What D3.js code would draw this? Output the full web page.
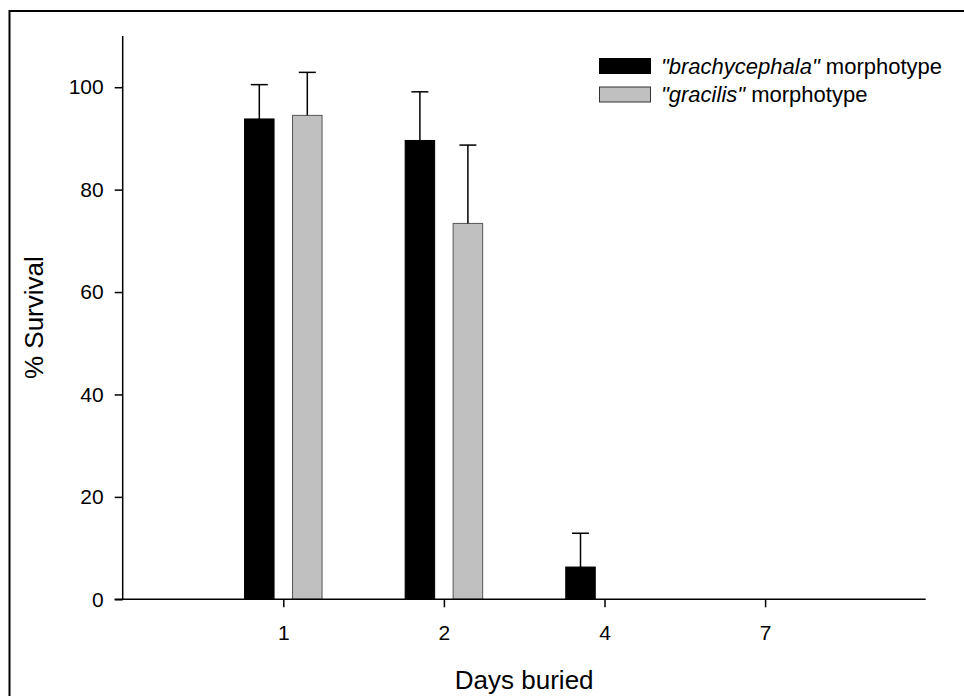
<!DOCTYPE html>
<html>
<head>
<meta charset="utf-8">
<script src="https://cdn.jsdelivr.net/npm/d3@7"></script>
<style>
  html, body { margin: 0; padding: 0; background: #fff; }
  svg { display: block; font-family: "Liberation Sans", Arial, sans-serif; }
</style>
</head>
<body>
<svg id="chart" width="964" height="696"></svg>
<script>
// Days buried (categories) and mean % survival with upper error (SD)
const days = ["1", "2", "4", "7"];
const brachyMean = [93.8, 89.6, 6.3, 0];
const brachyErr  = [6.7, 9.5, 6.6, 0];
const gracilisMean = [94.5, 73.4, 0, 0];
const gracilisErr  = [8.4, 15.3, 0, 0];
const yTicks = [0, 20, 40, 60, 80, 100];
const seriesNames = ["\"brachycephala\"", "\"gracilis\""];
const seriesFill = ["#000000", "#c0c0c0"];
const seriesStroke = ["#000000", "#555555"];

(function () {
  const svg = d3.select("#chart");

  // outer frame (top and left edges)
  svg.append("path")
    .attr("d", "M9.5,696 L9.5,11 L964,11")
    .attr("fill", "none").attr("stroke", "#000").attr("stroke-width", 2);

  const plotLeft = 122.7, plotRight = 925.7, plotTop = 36, plotBottom = 599.3;

  // categories sit at positions 1..4 on a 0..5 axis
  const x = d3.scaleLinear().domain([0, days.length + 1]).range([plotLeft, plotRight]);
  const y = d3.scaleLinear().domain([0, 110]).range([plotBottom, plotTop]);

  const barW = 29.5, offset = 24;

  const series = [
    { mean: brachyMean, err: brachyErr, dx: -offset },
    { mean: gracilisMean, err: gracilisErr, dx: offset }
  ];

  series.forEach((s, si) => {
    const g = svg.append("g");
    days.forEach((d, i) => {
      const v = s.mean[i];
      if (v <= 0) return;
      const cx = x(i + 1) + s.dx;
      g.append("rect")
        .attr("x", cx - barW / 2)
        .attr("y", y(v))
        .attr("width", barW)
        .attr("height", y(0) - y(v))
        .attr("fill", seriesFill[si])
        .attr("stroke", seriesStroke[si])
        .attr("stroke-width", 1);
      const e = s.err[i];
      if (e > 0) {
        g.append("line")
          .attr("x1", cx).attr("x2", cx)
          .attr("y1", y(v)).attr("y2", y(v + e))
          .attr("stroke", "#000").attr("stroke-width", 1.5);
        g.append("line")
          .attr("x1", cx - 8.5).attr("x2", cx + 8.5)
          .attr("y1", y(v + e)).attr("y2", y(v + e))
          .attr("stroke", "#000").attr("stroke-width", 1.5);
      }
    });
  });

  // y axis
  const yAxis = d3.axisLeft(y).tickValues(yTicks).tickSize(8).tickPadding(11);
  const gy = svg.append("g").attr("transform", `translate(${plotLeft},0)`).call(yAxis);
  gy.select(".domain").attr("d", `M0,${plotTop}V${plotBottom}`).attr("stroke-width", 1.5);
  gy.selectAll(".tick line").attr("stroke-width", 1.5);
  gy.selectAll(".tick text").attr("font-size", 21).attr("fill", "#000")
    .attr("font-family", "'Liberation Sans', Arial, sans-serif");

  // x axis
  const xAxis = d3.axisBottom(x).tickValues(days.map((d, i) => i + 1))
    .tickFormat((d) => days[d - 1]).tickSize(8).tickPadding(18);
  const gx = svg.append("g").attr("transform", `translate(0,${plotBottom})`).call(xAxis);
  gx.select(".domain").attr("d", `M${plotLeft - 8},0H${plotRight}`).attr("stroke-width", 1.5);
  gx.selectAll(".tick line").attr("stroke-width", 1.5);
  gx.selectAll(".tick text").attr("font-size", 21).attr("fill", "#000")
    .attr("font-family", "'Liberation Sans', Arial, sans-serif");

  // axis titles
  svg.append("text")
    .attr("x", (plotLeft + plotRight) / 2).attr("y", 689)
    .attr("text-anchor", "middle").attr("font-size", 26)
    .text("Days buried");
  svg.append("text")
    .attr("transform", `translate(43,${(plotTop + plotBottom) / 2}) rotate(-90)`)
    .attr("text-anchor", "middle").attr("font-size", 26)
    .text("% Survival");

  // legend
  const legend = svg.append("g");
  seriesNames.forEach((name, i) => {
    const ly = 58.5 + i * 28.5;
    legend.append("rect")
      .attr("x", 599.5).attr("y", ly)
      .attr("width", 51).attr("height", 15)
      .attr("fill", seriesFill[i])
      .attr("stroke", i === 0 ? "#000" : "#333").attr("stroke-width", 1);
    const t = legend.append("text")
      .attr("x", 661).attr("y", ly + 7.5).attr("dy", "0.35em")
      .attr("font-size", 22);
    t.append("tspan").attr("font-style", "italic").text(name);
    t.append("tspan").text(" morphotype");
  });
})();
</script>
</body>
</html>
